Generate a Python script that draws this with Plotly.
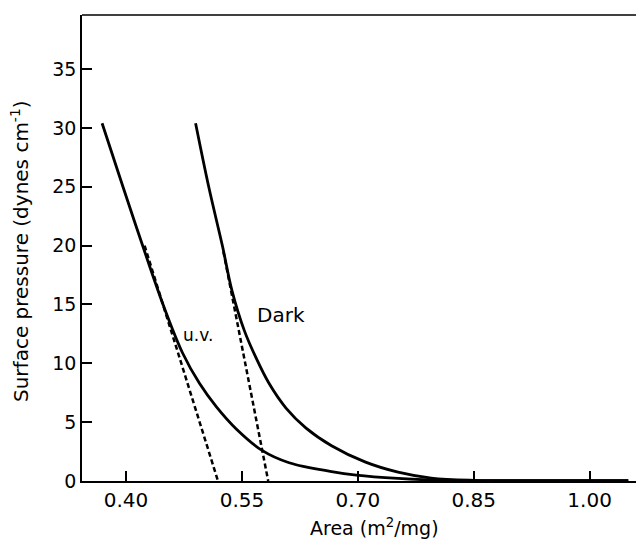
import plotly.graph_objects as go

# Data
uv_area = [0.369, 0.396, 0.422, 0.449, 0.473, 0.495, 0.517, 0.543, 0.576, 0.611, 0.666, 0.698, 0.752, 0.80, 0.90, 1.05]
uv_pressure = [30.4, 25.0, 19.9, 14.8, 10.9, 8.3, 6.3, 4.4, 2.6, 1.55, 0.8, 0.5, 0.22, 0.08, 0.03, 0.02]

dark_area = [0.490, 0.507, 0.525, 0.537, 0.553, 0.568, 0.585, 0.607, 0.633, 0.666, 0.710, 0.752, 0.795, 0.85, 0.95, 1.05]
dark_pressure = [30.4, 25.0, 19.9, 16.2, 12.8, 10.5, 8.3, 6.2, 4.5, 3.0, 1.6, 0.75, 0.25, 0.06, 0.03, 0.02]

uv_tangent_area = [0.424, 0.519]
uv_tangent_pressure = [20.0, 0.0]
dark_tangent_area = [0.526, 0.584]
dark_tangent_pressure = [19.5, 0.0]

x_ticks = [0.40, 0.55, 0.70, 0.85, 1.00]
x_tick_labels = ["0.40", "0.55", "0.70", "0.85", "1.00"]
y_ticks = [0, 5, 10, 15, 20, 25, 30, 35]
y_tick_labels = ["0", "5", "10", "15", "20", "25", "30", "35"]

FONT = "DejaVu Sans"

fig = go.Figure()
fig.add_trace(go.Scatter(x=uv_area, y=uv_pressure, mode="lines",
                         line=dict(color="black", width=2.8, shape="spline", smoothing=1.0),
                         showlegend=False))
fig.add_trace(go.Scatter(x=dark_area, y=dark_pressure, mode="lines",
                         line=dict(color="black", width=2.8, shape="spline", smoothing=1.0),
                         showlegend=False))
fig.add_trace(go.Scatter(x=uv_tangent_area, y=uv_tangent_pressure, mode="lines",
                         line=dict(color="black", width=2.5, dash="5px,3px"),
                         showlegend=False))
fig.add_trace(go.Scatter(x=dark_tangent_area, y=dark_tangent_pressure, mode="lines",
                         line=dict(color="black", width=2.5, dash="5px,3px"),
                         showlegend=False))

fig.add_annotation(x=0.493, y=12.4, text="u.v.", showarrow=False,
                   xanchor="center", yanchor="middle",
                   font=dict(family=FONT, size=17, color="black"))
fig.add_annotation(x=0.600, y=14.1, text="Dark", showarrow=False,
                   xanchor="center", yanchor="middle",
                   font=dict(family=FONT, size=20, color="black"))

# Axis titles
fig.add_annotation(xref="paper", yref="paper", x=(374 - 82) / (636 - 82), y=-(527 - 481) / (481 - 15),
                   text="Area (m<sup>2</sup>/mg)", showarrow=False,
                   xanchor="center", yanchor="middle",
                   font=dict(family=FONT, size=19, color="black"))
fig.add_annotation(xref="paper", yref="paper", x=-(82 - 20) / (636 - 82), y=(481 - 251) / (481 - 15),
                   text="Surface pressure (dynes cm<sup>-1</sup>)", showarrow=False, textangle=-90,
                   xanchor="center", yanchor="middle",
                   font=dict(family=FONT, size=20, color="black"))

# Top frame line
fig.add_shape(type="line", xref="paper", yref="paper", x0=0, x1=1, y0=1, y1=1,
              line=dict(color="black", width=1.6))

fig.update_xaxes(range=[0.343, 1.06], tickvals=x_ticks, ticktext=x_tick_labels,
                 ticks="inside", ticklen=10, tickwidth=1.5, tickcolor="black",
                 showline=True, linecolor="black", linewidth=1.6,
                 showgrid=False, zeroline=False,
                 tickfont=dict(family=FONT, size=20, color="black"))
fig.update_yaxes(range=[0, 39.6], tickvals=y_ticks, ticktext=y_tick_labels,
                 ticks="inside", ticklen=10, tickwidth=1.5, tickcolor="black",
                 showline=True, linecolor="black", linewidth=1.6,
                 showgrid=False, zeroline=False,
                 tickfont=dict(family=FONT, size=19, color="black"))

fig.update_layout(width=636, height=541, margin=dict(l=82, r=0, t=15, b=60),
                  plot_bgcolor="white", paper_bgcolor="white")

fig.write_html("out.html")
